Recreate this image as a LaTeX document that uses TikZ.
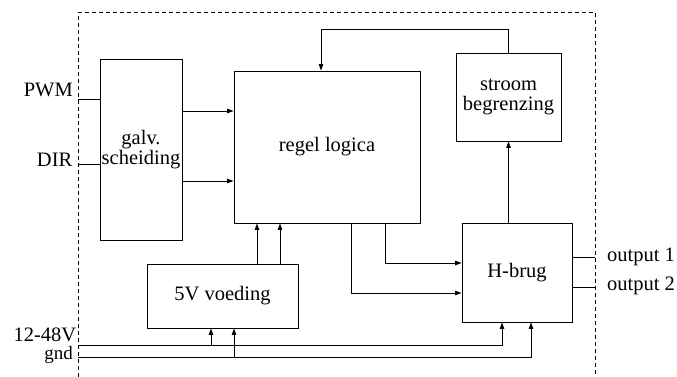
\documentclass[tikz,border=0pt]{standalone}
\usepackage{fontspec}
\setmainfont{Liberation Serif}
\usetikzlibrary{arrows.meta}
\begin{document}
\begin{tikzpicture}[x=1pt,y=-1pt,
  every node/.style={font=\fontsize{20.5}{22}\selectfont},
  blok/.style={draw,line width=0.9pt,inner sep=0pt,align=center},
  lijn/.style={line width=0.9pt},
  arr/.style={line width=0.9pt,-{Triangle[length=6.5pt,width=4.5pt]}},
  grens/.style={line width=0.9pt,dash pattern=on 4pt off 3pt}]
\useasboundingbox (0,0) rectangle (677,377);
% dashed boundary
\draw[grens] (78,377) -- (78,12.5) -- (595,12.5) -- (595,377);
% blocks
\node[blok,minimum width=82pt,minimum height=181pt] (galv) at (141,149.5) {galv.\\[-2pt]scheiding};
\node[blok,minimum width=186pt,minimum height=152pt] (regel) at (327,147) {regel logica};
\node[blok,minimum width=105pt,minimum height=88pt] (stroom) at (508.5,97) {stroom\\[-2pt]begrenzing};
\node[blok,minimum width=110pt,minimum height=99pt] (hb) at (517,272.5) {H-brug};
\node[blok,minimum width=151pt,minimum height=64pt] (v5) at (222.5,296) {5V voeding};
% external labels
\node[anchor=base east,inner sep=0pt] (lpwm) at (73,96.7) {PWM};
\node[anchor=base east,inner sep=0pt] (ldir) at (72.5,166.7) {DIR};
\node[anchor=base east,inner sep=0pt] (lv) at (76.5,341.5) {12-48V};
\node[anchor=base east,inner sep=0pt,font=\fontsize{19}{20}\selectfont] (lgnd) at (73,359.5) {gnd};
\node[anchor=base west,inner sep=0pt] (lo1) at (607,261.5) {output 1};
\node[anchor=base west,inner sep=0pt] (lo2) at (607,290.5) {output 2};
% coordinates
\coordinate (pwm) at (78,99.5);
\coordinate (dir) at (78,164);
\coordinate (g1) at (0,111);
\coordinate (g2) at (0,181);
\coordinate (fb) at (321,29);
\coordinate (c1) at (351,293);
\coordinate (c2) at (385,263);
\coordinate (p1) at (257,0);
\coordinate (p2) at (280,0);
\coordinate (vin) at (78,345);
\coordinate (gnd) at (78,357);
\coordinate (v1) at (211,0);
\coordinate (v2) at (234,0);
\coordinate (h1) at (502,0);
\coordinate (h2) at (531,0);
\coordinate (o1) at (595,257);
\coordinate (o2) at (595,287);
% inputs
\draw[lijn] (pwm) -- (pwm -| galv.west);
\draw[lijn] (dir) -- (dir -| galv.west);
% galv -> regel
\draw[arr] (g1 -| galv.east) -- (g1 -| regel.west);
\draw[arr] (g2 -| galv.east) -- (g2 -| regel.west);
% feedback
\draw[arr] (stroom.north) |- (fb) -- (fb |- regel.north);
% H-brug -> stroom
\draw[arr] (stroom.south |- hb.north) -- (stroom.south);
% regel -> H-brug
\draw[arr] (c1 |- regel.south) -- (c1) -- (c1 -| hb.west);
\draw[arr] (c2 |- regel.south) -- (c2) -- (c2 -| hb.west);
% 5V -> regel
\draw[arr] (p1 |- v5.north) -- (p1 |- regel.south);
\draw[arr] (p2 |- v5.north) -- (p2 |- regel.south);
% power lines
\draw[arr] (vin) -| (h1 |- hb.south);
\draw[arr] (gnd) -| (h2 |- hb.south);
\draw[arr] (v1 |- vin) -- (v1 |- v5.south);
\draw[arr] (v2 |- gnd) -- (v2 |- v5.south);
% outputs
\draw[lijn] (o1 -| hb.east) -- (o1);
\draw[lijn] (o2 -| hb.east) -- (o2);
\end{tikzpicture}
\end{document}
